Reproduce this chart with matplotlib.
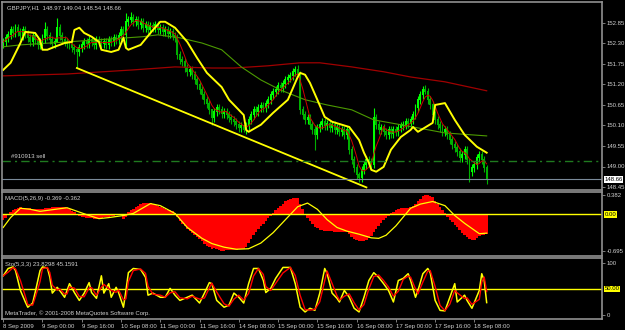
import matplotlib
matplotlib.use('Agg')
import matplotlib.pyplot as plt
import numpy as np

plt.rcParams['font.family'] = ['Liberation Sans', 'DejaVu Sans']

# ---- GBPJPY H1 closes, one per bar (8 Sep 08:00 .. 18 Sep 13:00) ----
closes = [
    152.34, 152.45, 152.53, 152.66, 152.58, 152.72, 152.61, 152.50, 152.66, 152.56,
    152.45, 152.34, 152.50, 152.39, 152.26, 152.34, 152.45, 152.66, 152.50, 152.39,
    152.29, 152.34, 152.72, 152.50, 152.39, 152.34, 152.29, 152.26, 152.18, 152.13,
    152.07, 152.18, 152.26, 152.34, 152.29, 152.39, 152.34, 152.26, 152.39, 152.34,
    152.29, 152.34, 152.26, 152.39, 152.34, 152.45, 152.39, 152.50, 152.66, 152.53,
    152.88, 152.93, 152.98, 152.88, 152.93, 152.80, 152.88, 152.72, 152.80, 152.66,
    152.77, 152.72, 152.80, 152.66, 152.72, 152.61, 152.66, 152.56, 152.61, 152.50,
    152.45, 151.99, 151.86, 151.80, 151.64, 151.54, 151.59, 151.46, 151.32, 151.19,
    151.05, 150.92, 150.79, 150.68, 150.52, 150.30, 150.46, 150.57, 150.52, 150.41,
    150.46, 150.38, 150.30, 150.25, 150.20, 150.12, 150.04, 150.09, 149.98, 150.09,
    150.25, 150.38, 150.52, 150.46, 150.57, 150.63, 150.57, 150.68, 150.79, 150.92,
    151.00, 151.05, 151.16, 151.11, 151.22, 151.32, 151.38, 151.43, 151.54, 151.59,
    151.46, 150.52, 150.38, 150.25, 150.30, 150.12, 149.98, 149.85, 150.04, 150.12,
    150.20, 150.09, 150.14, 150.04, 150.12, 149.98, 150.04, 149.93, 149.98, 149.85,
    149.98, 149.45, 149.18, 148.96, 148.78, 148.70, 148.91, 149.04, 149.18, 149.12,
    149.04, 150.30, 150.12, 149.98, 150.04, 149.93, 149.85, 149.98, 149.87, 149.98,
    149.93, 150.04, 150.09, 150.12, 150.20, 150.14, 150.25, 150.38, 150.57, 150.79,
    150.92, 151.05, 151.00, 150.79, 150.65, 150.38, 150.25, 150.12, 150.04, 149.93,
    149.98, 149.85, 149.71, 149.58, 149.50, 149.39, 149.23, 149.31, 149.45, 149.18,
    148.86, 148.96, 149.04, 149.23, 149.31, 149.18, 148.97, 148.66,
]
first_open = 152.30
wick = 0.11
# bars with long shadows: index -> (high, low)
extremes = {17: (152.88, 152.32), 22: (152.98, 152.39), 30: (152.20, 151.64),
            50: (153.12, 152.21), 52: (153.15, 152.85), 85: (150.55, 150.12),
            98: (150.12, 149.93), 120: (151.72, 151.40), 127: (150.10, 149.45),
            145: (148.85, 148.59), 151: (150.57, 148.96), 172: (151.19, 150.95),
            190: (149.20, 148.59), 197: (149.04, 148.54)}

# thick yellow average
yel_idx = [0, 3, 7, 9, 13, 15, 16, 18, 21, 25, 28, 29, 31, 33, 36, 39, 40, 44, 47, 49,
           50, 51, 56, 61, 64, 66, 70, 75, 79, 83, 89, 92, 98, 99, 100, 105, 110, 116,
           120, 121, 123, 125, 128, 131, 134, 138, 141, 145, 147, 149, 150, 152, 155,
           158, 162, 166, 167, 169, 175, 176, 180, 184, 188, 193, 197]
yel_val = [151.59, 151.78, 152.31, 152.61, 152.58, 152.39, 152.13, 152.13, 152.21,
           152.31, 152.34, 152.66, 152.72, 152.58, 152.48, 152.34, 152.13, 152.07,
           152.13, 152.45, 152.18, 152.13, 152.26, 152.66, 152.88, 152.88, 152.72,
           152.34, 151.91, 151.51, 151.13, 150.79, 150.38, 149.98, 149.93, 150.12,
           150.44, 150.79, 151.40, 151.51, 151.46, 151.24, 150.79, 150.33, 150.20,
           150.12, 150.06, 149.71, 149.37, 149.10, 148.91, 148.86, 148.99, 149.45,
           149.79, 149.98, 150.06, 149.93, 150.17, 150.65, 150.70, 150.25, 149.85,
           149.53, 149.37]
# slow green average
grn_idx = [0, 7, 26, 57, 63, 72, 81, 89, 97, 105, 113, 123, 132, 142, 151, 162, 180, 197]
grn_val = [152.21, 152.26, 152.34, 152.48, 152.53, 152.45, 152.31, 152.13, 151.67,
           151.32, 151.05, 150.79, 150.65, 150.52, 150.25, 150.12, 149.90, 149.82]
# slowest dark red average
drd_idx = [0, 26, 53, 70, 85, 94, 108, 121, 129, 142, 155, 166, 180, 197]
drd_val = [151.43, 151.48, 151.59, 151.67, 151.64, 151.64, 151.70, 151.78, 151.78,
           151.67, 151.54, 151.40, 151.27, 151.03]

trend_x = [30, 148]
trend_y = [151.64, 148.44]
sell_level = 149.16
bid = 148.66

# MACD(5,26,9) main, one per bar
macd_hist = [
    -0.10, -0.06, 0.00, 0.05, 0.09, 0.11, 0.13, 0.14, 0.13, 0.13,
    0.12, 0.12, 0.11, 0.11, 0.11, 0.10, 0.11, 0.12, 0.13, 0.13,
    0.14, 0.14, 0.15, 0.15, 0.14, 0.14, 0.13, 0.10, 0.07, 0.04,
    0.01, -0.02, -0.04, -0.05, -0.06, -0.07, -0.07, -0.08, -0.08, -0.07,
    -0.06, -0.05, -0.05, -0.04, -0.03, -0.02, -0.01, 0.00, 0.01, -0.08,
    -0.04, 0.04, 0.08, 0.10, 0.14, 0.17, 0.20, 0.22, 0.23, 0.23,
    0.22, 0.20, 0.18, 0.16, 0.14, 0.12, 0.10, 0.09, 0.08, 0.06,
    0.03, -0.05, -0.12, -0.18, -0.23, -0.28, -0.31, -0.35, -0.39, -0.43,
    -0.47, -0.52, -0.56, -0.60, -0.63, -0.66, -0.65, -0.66, -0.68, -0.70,
    -0.70, -0.69, -0.69, -0.68, -0.68, -0.68, -0.67, -0.66, -0.66, -0.62,
    -0.55, -0.48, -0.40, -0.34, -0.28, -0.23, -0.18, -0.12, -0.07, -0.02,
    0.03, 0.08, 0.13, 0.17, 0.21, 0.25, 0.28, 0.30, 0.31, 0.32,
    0.31, 0.20, 0.10, 0.00, -0.06, -0.13, -0.19, -0.25, -0.27, -0.29,
    -0.30, -0.31, -0.31, -0.32, -0.32, -0.33, -0.33, -0.33, -0.33, -0.33,
    -0.33, -0.38, -0.43, -0.47, -0.50, -0.52, -0.52, -0.51, -0.49, -0.46,
    -0.42, -0.34, -0.28, -0.22, -0.16, -0.11, -0.06, -0.02, 0.02, 0.05,
    0.08, 0.10, 0.12, 0.13, 0.13, 0.13, 0.14, 0.16, 0.20, 0.25,
    0.30, 0.35, 0.37, 0.37, 0.36, 0.33, 0.26, 0.20, 0.14, 0.08,
    0.02, -0.05, -0.10, -0.15, -0.20, -0.25, -0.30, -0.35, -0.40, -0.44,
    -0.48, -0.50, -0.49, -0.46, -0.42, -0.40, -0.39, -0.37,
]
sig_idx = [0, 3, 7, 11, 15, 26, 35, 39, 43, 49, 53, 60, 64, 70, 75, 81, 85, 90, 95,
           100, 105, 110, 115, 120, 124, 128, 132, 136, 140, 145, 150, 153, 156, 160,
           163, 166, 170, 175, 180, 184, 188, 194, 197]
sig_val = [-0.25, -0.06, 0.12, 0.10, 0.06, 0.13, -0.02, -0.08, -0.06, -0.02, 0.02,
           0.21, 0.17, 0.02, -0.25, -0.46, -0.56, -0.63, -0.67, -0.66, -0.55, -0.35,
           -0.10, 0.15, 0.22, 0.10, -0.10, -0.25, -0.32, -0.38, -0.45, -0.46, -0.40,
           -0.22, -0.05, 0.12, 0.20, 0.25, 0.17, -0.02, -0.17, -0.37, -0.36]

# Stochastic(5,3,3) %K
sto_idx = [0, 2, 4, 5, 7, 9, 10, 12, 13, 15, 16, 18, 19, 20, 22, 23, 25, 26, 27, 29,
           31, 33, 35, 36, 38, 40, 41, 43, 44, 46, 47, 49, 50, 51, 53, 56, 58, 59, 61,
           64, 66, 68, 70, 72, 75, 77, 80, 82, 84, 85, 87, 90, 92, 94, 96, 98, 100,
           102, 104, 106, 107, 109, 111, 114, 117, 119, 121, 123, 125, 127, 129, 131,
           132, 134, 136, 137, 139, 141, 143, 145, 147, 149, 151, 153, 155, 157, 159,
           161, 163, 165, 166, 168, 169, 171, 173, 174, 176, 178, 180, 182, 184, 185,
           188, 189, 191, 194, 195, 196, 197]
sto_k = [75, 89, 92, 85, 47, 25, 15, 23, 43, 85, 92, 90, 72, 42, 53, 47, 34, 47, 60,
         43, 28, 42, 62, 43, 32, 75, 42, 60, 34, 53, 43, 15, 47, 81, 89, 87, 72, 38,
         42, 34, 34, 51, 38, 28, 34, 38, 23, 42, 62, 60, 28, 15, 19, 42, 34, 23, 60,
         89, 89, 66, 43, 51, 70, 91, 91, 60, 15, 6, 13, 9, 42, 89, 79, 42, 32, 25,
         47, 34, 13, 6, 34, 66, 81, 72, 60, 47, 25, 66, 70, 79, 66, 34, 47, 79, 89,
         81, 28, 9, 8, 34, 60, 25, 38, 28, 13, 47, 79, 66, 23.83]

time_idx = [0, 16, 32, 48, 64, 80, 96, 112, 128, 144, 160, 176, 192]
time_labels = ['8 Sep 2009', '9 Sep 00:00', '9 Sep 16:00', '10 Sep 08:00',
               '11 Sep 00:00', '11 Sep 16:00', '14 Sep 08:00', '15 Sep 00:00',
               '15 Sep 16:00', '16 Sep 08:00', '17 Sep 00:00', '17 Sep 16:00',
               '18 Sep 08:00']
price_ticks = [152.85, 152.30, 151.75, 151.20, 150.65, 150.10, 149.55, 149.00, 148.45]

# ---- derived ----
c = np.array(closes)
o = np.concatenate([[first_open], c[:-1]])
hi = np.maximum(o, c) + wick
lo = np.minimum(o, c) - wick
for k, (h, l) in extremes.items():
    hi[k], lo[k] = h, l
idx = np.arange(len(c))
fast = np.array([c[max(0, i - 4):i + 1].mean() for i in idx])
k_arr = np.array(sto_k, dtype=float)
d_arr = np.concatenate([[k_arr[0]], (k_arr[1:] + k_arr[:-1]) / 2])

# ---- figure ----
fs = 4.3
txt = '#d0d0d0'
grid = '#909090'
fig = plt.figure(figsize=(6.25, 3.3), dpi=100, facecolor='black')
W = 625.0
H = 330.0


def panel(top, bottom):
    a = fig.add_axes([2 / W, 1 - bottom / H, 600 / W, (bottom - top) / H])
    a.set_facecolor('black')
    for s in a.spines.values():
        s.set_color(grid)
        s.set_linewidth(1.2)
    a.set_xlim(-0.5, 244)
    a.yaxis.tick_right()
    a.tick_params(axis='y', colors=grid, labelcolor=txt, labelsize=fs, length=2,
                  pad=1.5, width=0.6)
    a.tick_params(axis='x', bottom=False, labelbottom=False)
    return a


ax = panel(2, 190)
ax.set_ylim(148.37, 153.41)
ax.set_yticks(price_ticks)
ax.set_yticklabels(['%.2f' % p for p in price_ticks])

up = c >= o
cols = np.where(up, '#00ff00', '#00b000')
ax.vlines(idx, lo, hi, colors=cols, lw=0.8)
ax.bar(idx, np.abs(c - o) + 0.015, bottom=np.minimum(o, c), width=0.8, color=cols,
       linewidth=0)

ax.plot(drd_idx, drd_val, color='#a00000', lw=0.9)
ax.plot(grn_idx, grn_val, color='#4c9a00', lw=0.8)
ax.plot(idx, fast, color='#d00000', lw=0.7)
ax.plot(yel_idx, yel_val, color='#ffff00', lw=1.4)
ax.plot(trend_x, trend_y, color='#ffff00', lw=1.3)
ax.axhline(sell_level, color='#1f7a1f', lw=1.0, ls=(0, (6, 3, 1.5, 3)))
ax.axhline(bid, color='#7a8a9a', lw=0.8)
ax.text(3, sell_level + 0.05, '#910913 sell', color=txt, fontsize=fs, va='bottom')
ax.text(0.008, 0.985, 'GBPJPY,H1  148.97 149.04 148.54 148.66', color=txt,
        fontsize=fs, transform=ax.transAxes, va='top')
ax.text(1.004, bid, '148.66', transform=ax.get_yaxis_transform(), fontsize=fs,
        color='black', va='center', ha='left',
        bbox=dict(facecolor='white', edgecolor='none', pad=0.6))

# MACD
am = panel(192, 256)
am.set_ylim(-0.80, 0.433)
am.set_yticks([0.382, -0.695])
am.set_yticklabels(['0.382', '-0.695'])
am.bar(idx, macd_hist, width=1.0, color='#ff0000', linewidth=0)
am.axhline(0, color='#ffff00', lw=1.0)
am.plot(sig_idx, sig_val, color='#ffff00', lw=0.9)
am.text(0.005, 0.93, 'MACD(5,26,9) -0.369 -0.362', color=txt, fontsize=fs,
        transform=am.transAxes, va='top')
am.text(1.004, 0, '0.00', transform=am.get_yaxis_transform(), fontsize=fs,
        color='black', va='center', ha='left',
        bbox=dict(facecolor='#ffff00', edgecolor='none', pad=0.6))

# Stochastic
ast = panel(258, 319)
ast.set_ylim(-7.5, 109)
ast.set_yticks([100, 0])
ast.set_yticklabels(['100', '0'])
ast.axhline(50, color='#ffff00', lw=1.0)
ast.plot(sto_idx, sto_k, color='#ffff00', lw=1.1)
ast.plot(sto_idx, d_arr, color='#ff0000', lw=1.0)
ast.text(0.005, 0.93, 'Sto(5,3,3) 23.8298 45.1591', color=txt, fontsize=fs,
         transform=ast.transAxes, va='top')
ast.text(0.005, 0.05, 'MetaTrader, \u00a9 2001-2008 MetaQuotes Software Corp.',
         color=txt, fontsize=fs, transform=ast.transAxes, va='bottom')
ast.text(1.004, 50, '50.00', transform=ast.get_yaxis_transform(), fontsize=fs,
         color='black', va='center', ha='left',
         bbox=dict(facecolor='#ffff00', edgecolor='none', pad=0.6))
ast.tick_params(axis='x', bottom=True, labelbottom=True, colors=grid,
                labelcolor=txt, labelsize=fs, length=2.5, pad=1, width=0.6)
ast.set_xticks(time_idx)
ast.set_xticklabels(time_labels, ha='left')

fig.savefig('out.png', dpi=100, facecolor='black')
